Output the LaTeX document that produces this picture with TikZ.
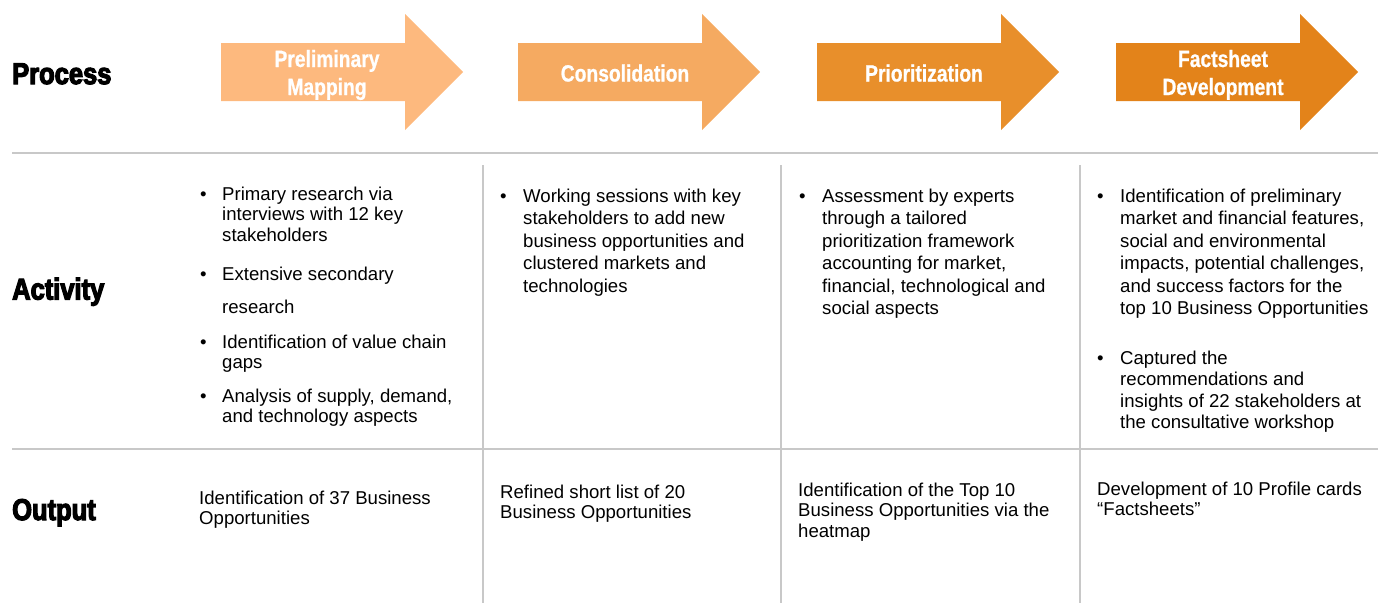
\documentclass[tikz,border=0pt]{standalone}
\usepackage{fontspec}
\setmainfont{Liberation Sans}
% heavy condensed face for the row headings and arrow labels
\newfontfamily\headface[FakeStretch=0.85,FakeBold=4]{Liberation Sans}
\newfontfamily\arrowface[FakeStretch=0.82,FakeBold=0.8]{Liberation Sans}

\definecolor{gridgray}{HTML}{C8C8C8}
\definecolor{stepA}{HTML}{FDB97E}
\definecolor{stepB}{HTML}{F5AA61}
\definecolor{stepC}{HTML}{E88F2B}
\definecolor{stepD}{HTML}{E3831A}

% multi-line nodes are placed by the baseline of their last line
\tikzset{
  rowhead/.style={anchor=base west, inner sep=0pt,
    font=\headface\bfseries\fontsize{30}{31}\selectfont},
  arrowlabel/.style={anchor=base, inner sep=0pt, align=center, text=white,
    font=\arrowface\bfseries\fontsize{23.5}{28}\selectfont},
  body/.style={anchor=base west, inner sep=0pt, align=left,
    font=\fontsize{18.6}{20.5}\selectfont},
  bodywide/.style={body, font=\fontsize{18.6}{22.5}\selectfont},
  bodymid/.style={body, font=\fontsize{18.6}{21.5}\selectfont},
  dot/.style={anchor=base west, inner sep=0pt, font=\fontsize{18.6}{20}\selectfont},
  rule/.style={draw=gridgray, line width=1.6pt}
}

% process arrow: #1 left edge of the shaft, #2 fill colour
\newcommand\processarrow[2]{%
  \fill[#2] (#1,43) -- (#1+184,43) -- (#1+184,14) -- (#1+242,72)
    -- (#1+184,130) -- (#1+184,101) -- (#1,101) -- cycle;}

\begin{document}
\begin{tikzpicture}[x=1pt,y=-1pt]
\useasboundingbox (0,0) rectangle (1378,603);

% grid rules
\coordinate (r1w) at (12,153);   \coordinate (r1e) at (1378,153);
\coordinate (r2w) at (12,449);   \coordinate (r2e) at (1378,449);
\draw[rule] (r1w) -- (r1e);
\draw[rule] (r2w) -- (r2e);
\foreach \cx in {483,781,1080}{
  \draw[rule] (\cx,165) -- (\cx,603);
}

% process arrows
\processarrow{221}{stepA}
\processarrow{518}{stepB}
\processarrow{817}{stepC}
\processarrow{1116}{stepD}

\node[arrowlabel] (p1) at (327,95) {Preliminary\\Mapping};
\node[arrowlabel] (p2) at (625,81.5) {Consolidation};
\node[arrowlabel] (p3) at (924,81.5) {Prioritization};
\node[arrowlabel] (p4) at (1223,95) {Factsheet\\Development};

% row headings
\node[rowhead] (hproc) at (12,84) {Process};
\node[rowhead] (hact)  at (12,299.5) {Activity};
\node[rowhead] (hout)  at (12,520) {Output};

% activity, column 1
\node[dot] (d11) at (200,200) {•};
\node[body] (a11) at (222,241) {Primary research via\\interviews with 12 key\\stakeholders};
\node[dot] (d12) at (200,280) {•};
\node[body] (a12) at (222,313) {Extensive secondary\\[12.5pt]research};
\node[dot] (d13) at (200,348) {•};
\node[body] (a13) at (222,368.5) {Identification of value chain\\gaps};
\node[dot] (d14) at (200,402) {•};
\node[body] (a14) at (222,422.5) {Analysis of supply, demand,\\and technology aspects};

% activity, column 2
\node[dot] (d21) at (500,202) {•};
\node[bodywide] (a21) at (523,292) {Working sessions with key\\stakeholders to add new\\business opportunities and\\clustered markets and\\technologies};

% activity, column 3
\node[dot] (d31) at (799,202) {•};
\node[bodywide] (a31) at (822,314.5) {Assessment by experts\\through a tailored\\prioritization framework\\accounting for market,\\financial, technological and\\social aspects};

% activity, column 4
\node[dot] (d41) at (1097,202) {•};
\node[bodywide] (a41) at (1120,314.5) {Identification of preliminary\\market and financial features,\\social and environmental\\impacts, potential challenges,\\and success factors for the\\top 10 Business Opportunities};
\node[dot] (d42) at (1097,364) {•};
\node[bodymid] (a42) at (1120,428.5) {Captured the\\recommendations and\\insights of 22 stakeholders at\\the consultative workshop};

% output row
\node[body] (o1) at (199,524.5) {Identification of 37 Business\\Opportunities};
\node[body] (o2) at (500,518.5) {Refined short list of 20\\Business Opportunities};
\node[body] (o3) at (798,537) {Identification of the Top 10\\Business Opportunities via the\\heatmap};
\node[body] (o4) at (1097,515.5) {Development of 10 Profile cards\\“Factsheets”};
\end{tikzpicture}
\end{document}
